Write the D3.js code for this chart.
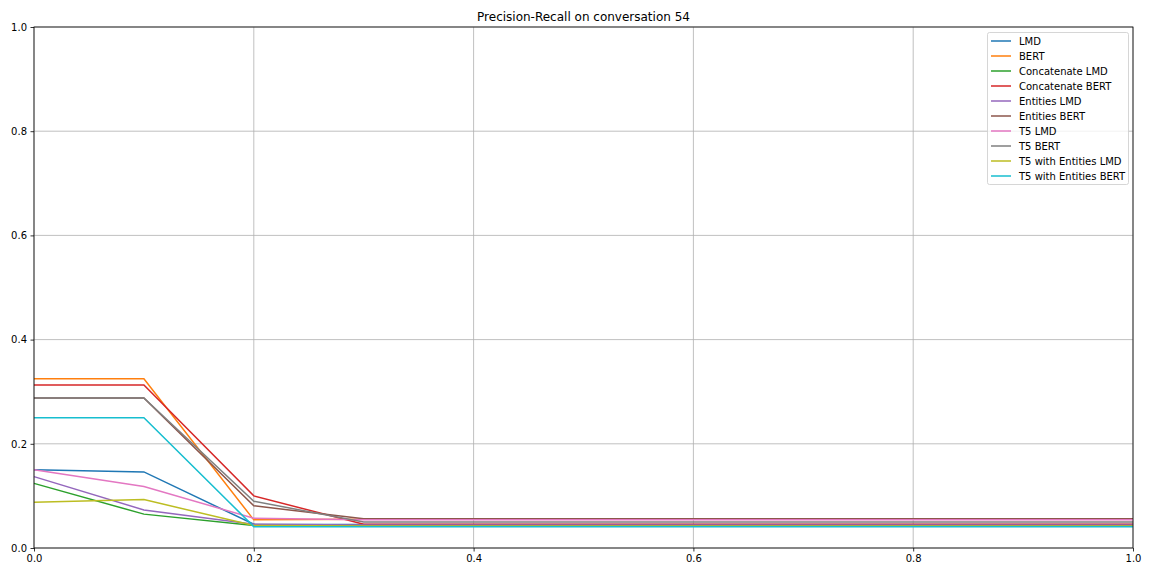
<!DOCTYPE html>
<html><head><meta charset="utf-8">
<script src="https://cdn.jsdelivr.net/npm/d3@7"></script>
<style>body{margin:0;background:#fff}text{font-family:"DejaVu Sans",sans-serif}</style>
</head><body><svg id="c" width="1152" height="576"></svg>
<script>
const recall = [0,0.1,0.2,0.3,0.4,0.5,0.6,0.7,0.8,0.9,1.0];
const seriesNames = ["LMD","BERT","Concatenate LMD","Concatenate BERT","Entities LMD","Entities BERT","T5 LMD","T5 BERT","T5 with Entities LMD","T5 with Entities BERT"];
const LMD = [0.150,0.146,0.0455,0.045,0.045,0.045,0.045,0.045,0.045,0.045,0.045];
const BERT = [0.325,0.325,0.054,0.055,0.055,0.055,0.055,0.055,0.055,0.055,0.055];
const ConcatLMD = [0.124,0.065,0.043,0.043,0.043,0.043,0.043,0.043,0.043,0.043,0.043];
const ConcatBERT = [0.313,0.313,0.100,0.0455,0.0455,0.0455,0.0455,0.0455,0.0455,0.0455,0.0455];
const EntLMD = [0.137,0.073,0.0455,0.044,0.044,0.044,0.044,0.044,0.044,0.044,0.044];
const EntBERT = [0.288,0.288,0.081,0.056,0.056,0.056,0.056,0.056,0.056,0.056,0.056];
const T5LMD = [0.150,0.118,0.057,0.054,0.054,0.054,0.054,0.054,0.054,0.054,0.054];
const T5BERT = [0.288,0.288,0.0896,0.050,0.050,0.050,0.050,0.050,0.050,0.050,0.050];
const T5EntLMD = [0.088,0.093,0.043,0.042,0.042,0.042,0.042,0.042,0.042,0.042,0.042];
const T5EntBERT = [0.250,0.250,0.041,0.041,0.041,0.041,0.041,0.041,0.041,0.041,0.041];
const seriesValues = [LMD,BERT,ConcatLMD,ConcatBERT,EntLMD,EntBERT,T5LMD,T5BERT,T5EntLMD,T5EntBERT];
const colors = ["#1f77b4","#ff7f0e","#2ca02c","#d62728","#9467bd","#8c564b","#e377c2","#7f7f7f","#bcbd22","#17becf"];
const ticks = [0,0.2,0.4,0.6,0.8,1.0];
const title = "Precision-Recall on conversation 54";

const svg = d3.select("#c");
const L=34, R=1133, T=27, B=548;
const x = d3.scaleLinear().domain([0,1]).range([L,R]);
const y = d3.scaleLinear().domain([0,1]).range([B,T]);

// grid
const g = svg.append("g");
ticks.forEach(t=>{
  g.append("line").attr("x1",x(t)).attr("x2",x(t)).attr("y1",T).attr("y2",B).attr("stroke","#b0b0b0").attr("stroke-width",0.8);
  g.append("line").attr("x1",L).attr("x2",R).attr("y1",y(t)).attr("y2",y(t)).attr("stroke","#b0b0b0").attr("stroke-width",0.8);
});

// lines
const line = d3.line().x((d,i)=>x(recall[i])).y(d=>y(d));
seriesValues.forEach((s,k)=>{
  svg.append("path").datum(s).attr("d",line).attr("fill","none").attr("stroke",colors[k]).attr("stroke-width",1.5);
});

// axes
const xa = svg.append("g").attr("transform",`translate(0,${B})`).call(d3.axisBottom(x).tickValues(ticks).tickFormat(d3.format(".1f")).tickSizeOuter(0).tickSize(3.5).tickPadding(3.5));
const ya = svg.append("g").attr("transform",`translate(${L},0)`).call(d3.axisLeft(y).tickValues(ticks).tickFormat(d3.format(".1f")).tickSizeOuter(0).tickSize(3.5).tickPadding(3.5));
[xa,ya].forEach(a=>{a.selectAll("text").attr("font-size",10).attr("fill","#000").style("font-family","DejaVu Sans");a.selectAll("line").attr("stroke","#000").attr("stroke-width",0.8);a.select(".domain").remove();});
// spines
svg.append("rect").attr("x",L).attr("y",T).attr("width",R-L).attr("height",B-T).attr("fill","none").attr("stroke","#000").attr("stroke-width",0.8);

svg.append("text").attr("x",(L+R)/2).attr("y",T-6).attr("text-anchor","middle").attr("font-size",12).text(title);

// legend
const lg = svg.append("g");
lg.append("rect").attr("x",987.5).attr("y",32.5).attr("width",141).attr("height",152).attr("rx",2).attr("fill","#fff").attr("fill-opacity",0.8).attr("stroke","#cccccc").attr("stroke-width",0.8);
seriesNames.forEach((n,k)=>{
  const yy = 41 + k*15;
  lg.append("line").attr("x1",991).attr("x2",1011).attr("y1",yy).attr("y2",yy).attr("stroke",colors[k]).attr("stroke-width",1.5);
  lg.append("text").attr("x",1019).attr("y",yy+3.5).attr("font-size",10).text(n);
});
</script></body></html>
